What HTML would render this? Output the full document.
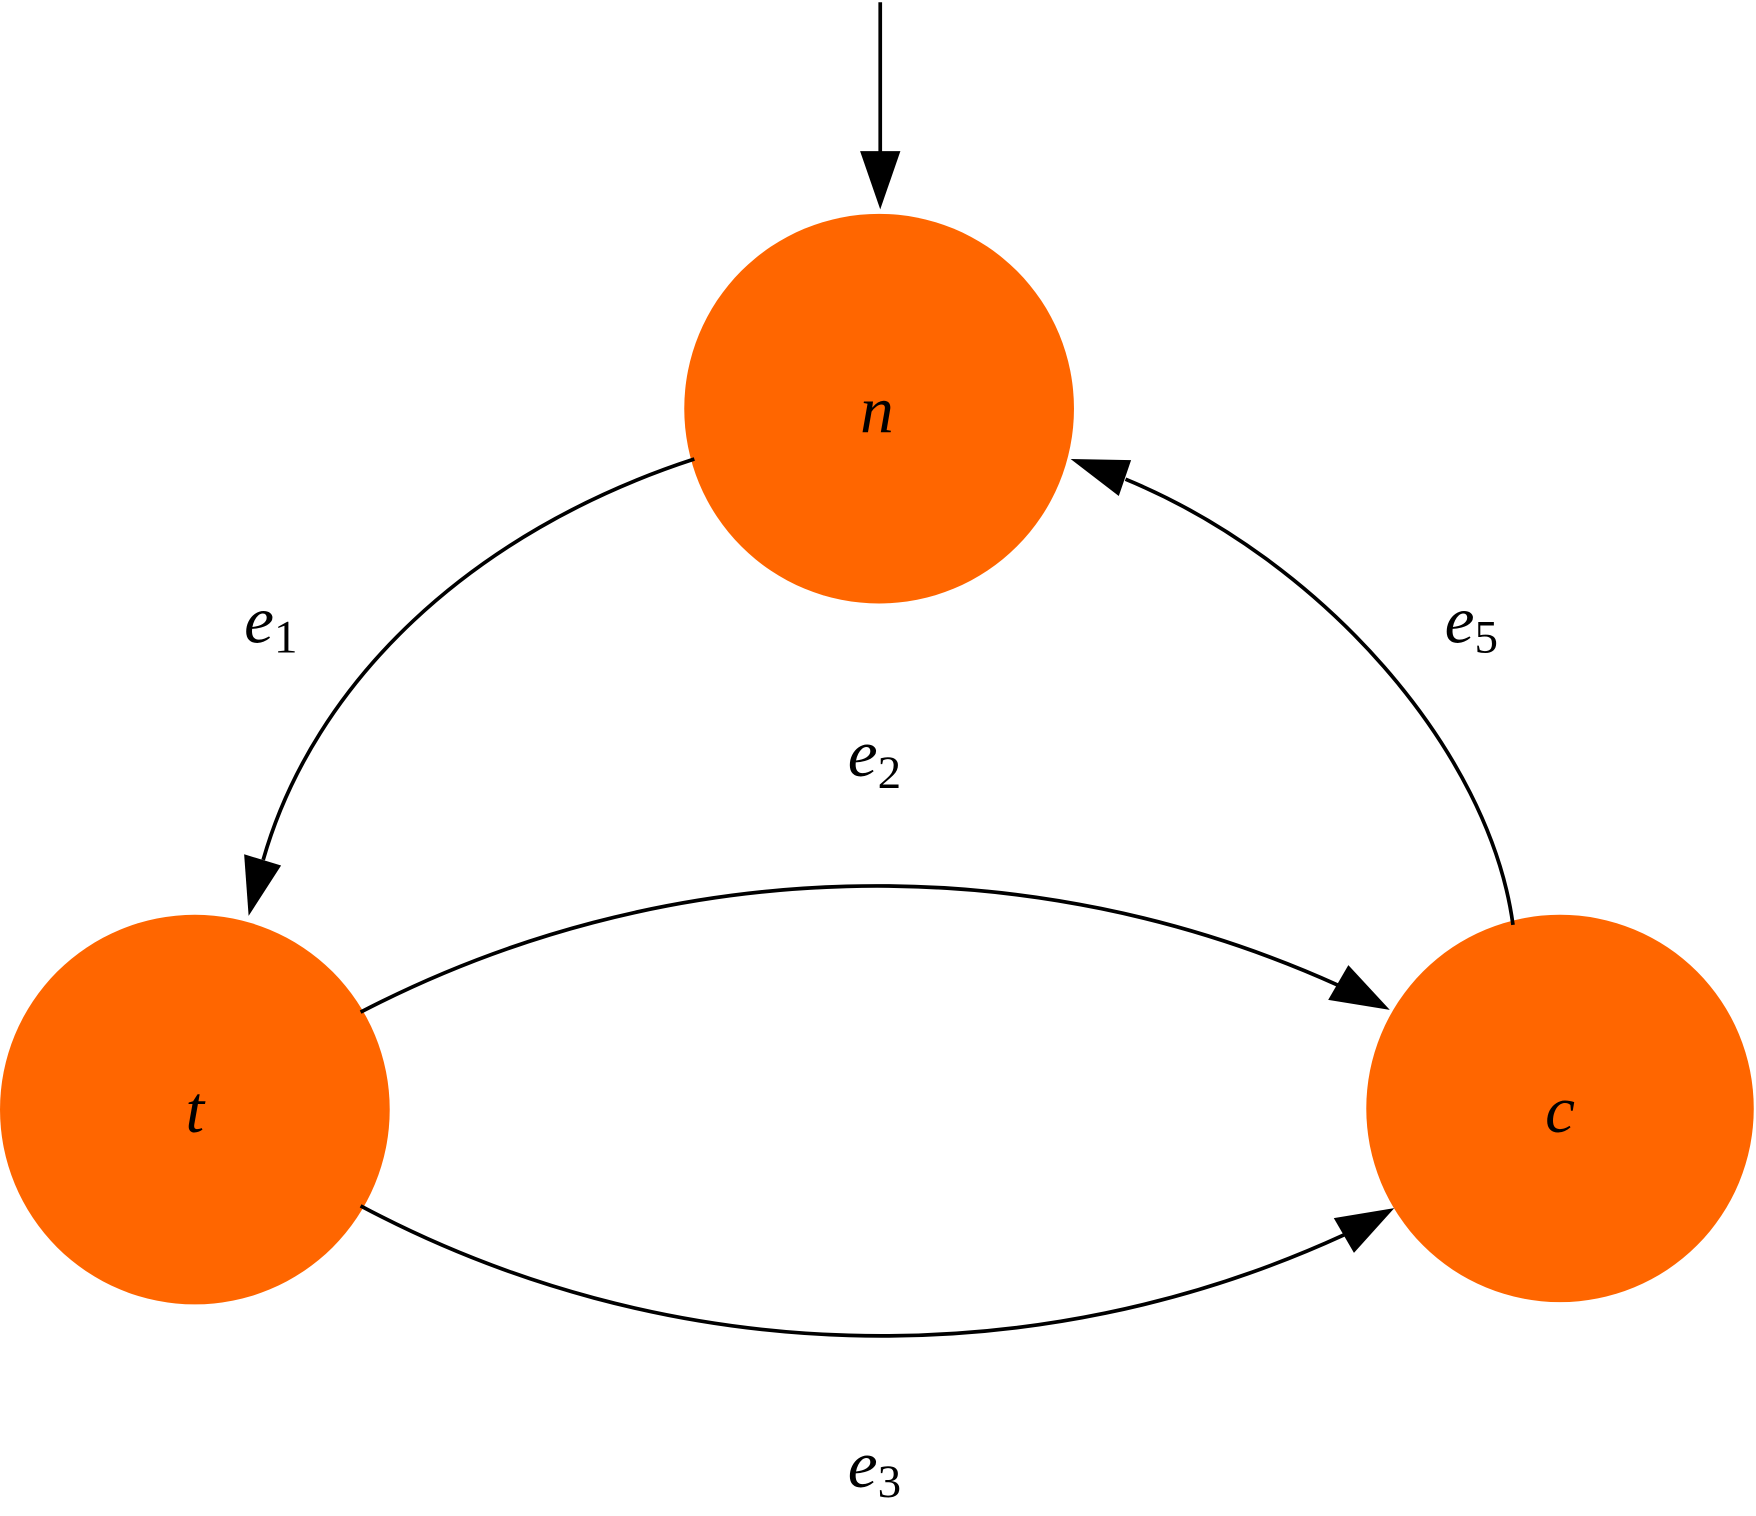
<!DOCTYPE html>
<html><head><meta charset="utf-8"><style>
html,body{margin:0;padding:0;background:#fff;}
svg{display:block;}
text{font-family:"Liberation Serif","Times New Roman",serif;fill:#000;}
</style></head><body>
<svg width="1756" height="1516" viewBox="0 0 1568 1354" preserveAspectRatio="none">
<circle cx="785" cy="365" r="174" fill="#FF6600"/>
<circle cx="174" cy="991" r="174" fill="#FF6600"/>
<circle cx="1393" cy="990" r="173" fill="#FF6600"/>
<g fill="none" stroke="#000" stroke-width="3.3">
<line x1="786" y1="2" x2="786" y2="137"/>
<path d="M620,410 C420,475 280,610 235,768"/>
<path d="M1351,826 C1330,670 1180,500 1005,428"/>
<path d="M322,904 A1000,1000 0 0 1 1195,880"/>
<path d="M322,1077 A990,990 0 0 0 1200,1103"/>
</g>
<g fill="#000">
<polygon points="768,135 804,135 786,187"/>
<polygon points="218,763 251,773 222,818"/>
<polygon points="1010,411 999,443 956,410"/>
<polygon points="1186,893 1204,862 1241,902"/>
<polygon points="1191,1088 1209,1119 1245,1079"/>
</g>
<g font-size="60" font-style="italic" text-anchor="middle">
<text x="783" y="386">n</text>
<text x="174" y="1011">t</text>
<text x="1393" y="1011">c</text>
</g>
<g font-size="60">
<text x="218" y="574" font-style="italic">e<tspan font-size="42" font-style="normal" dy="9">1</tspan></text>
<text x="757" y="693" font-style="italic">e<tspan font-size="42" font-style="normal" dy="11">2</tspan></text>
<text x="757" y="1328" font-style="italic">e<tspan font-size="42" font-style="normal" dy="9">3</tspan></text>
<text x="1290" y="574" font-style="italic">e<tspan font-size="42" font-style="normal" dy="9">5</tspan></text>
</g>
</svg>
</body></html>
